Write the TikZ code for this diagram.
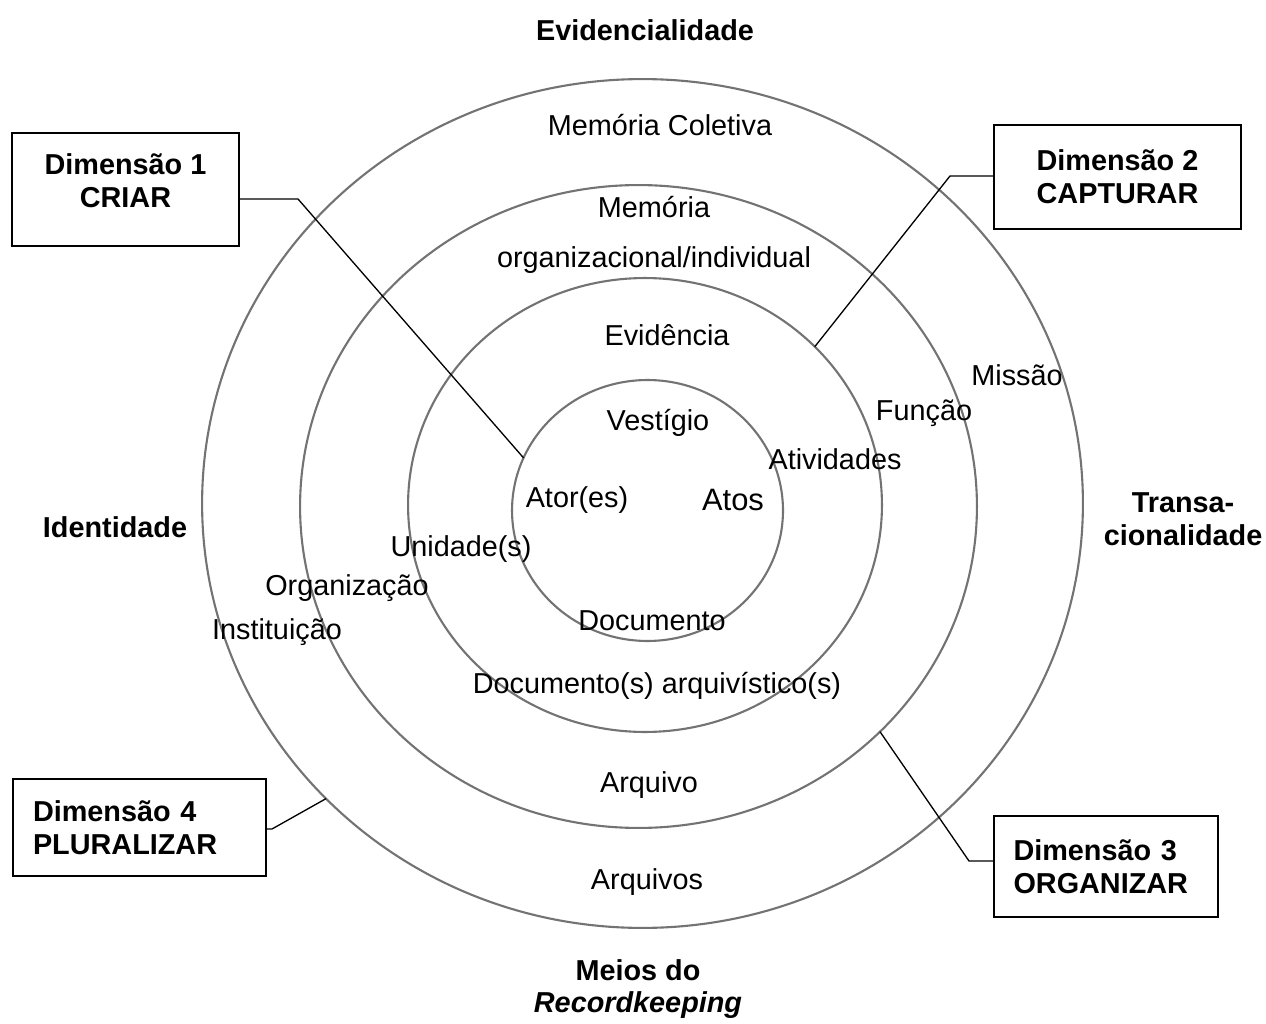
\documentclass[tikz,border=0pt]{standalone}
\usepackage{fontspec}
\setmainfont{Liberation Sans}
\usetikzlibrary{shapes.geometric}
\newcommand{\lblsize}{\fontsize{16.4}{18.7}\selectfont}
\tikzset{
	ring/.style={ellipse, draw=black!55, line width=1.2pt, inner sep=0pt, outer sep=0pt},
	lbl/.style={font=\lblsize, inner sep=0pt},
	axislbl/.style={font=\lblsize\bfseries, align=center, inner sep=0pt},
	dimbox/.style={draw, line width=1.4pt, font=\lblsize\bfseries, inner sep=0pt},
	link/.style={line width=0.75pt},
}
\begin{document}
\begin{tikzpicture}[x=0.02cm, y=-0.02cm]
	\useasboundingbox (0,0) rectangle (1266,1023);
	% the four rings
	\node[ring, minimum width=17.62cm, minimum height=16.98cm] (ring4) at (642.5,503.5) {};
	\node[ring, minimum width=13.54cm, minimum height=12.86cm] (ring3) at (638.5,506.5) {};
	\node[ring, minimum width=9.48cm, minimum height=9.08cm] (ring2) at (645,505) {};
	\node[ring, minimum width=5.42cm, minimum height=5.22cm] (ring1) at (647.5,510.5) {};
	% axes
	\node[axislbl] (evid) at (645,30) {Evidencialidade};
	\node[axislbl] (ident) at (115,527) {Identidade};
	\node[axislbl] (trans) at (1183,519) {Transa-\\cionalidade};
	\node[axislbl] (meios) at (638,989) {Meios do\\\textit{Recordkeeping}};
	% ring labels
	\node[lbl] (memcol) at (660,125) {Memória Coletiva};
	\node[lbl, align=center] (memorg) at (654,235) {Memória\\[9.7pt]organizacional/individual};
	\node[lbl] (evidencia) at (667,335) {Evidência};
	\node[lbl] (vestigio) at (658,423) {Vestígio};
	\node[lbl] (missao) at (1017,375) {Missão};
	\node[lbl] (funcao) at (924,413) {Função};
	\node[lbl] (ativ) at (835,459) {Atividades};
	\node[lbl] (ator) at (577,500) {Ator(es)};
	\node[lbl, font=\fontsize{17.6}{20}\selectfont] (atos) at (733,500) {Atos};
	\node[lbl] (unid) at (461,549) {Unidade(s)};
	\node[lbl] (org) at (347,588) {Organização};
	\node[lbl] (inst) at (277,632) {Instituição};
	\node[lbl] (doc) at (652,621) {Documento};
	\node[lbl] (docarq) at (657,686) {Documento(s) arquivístico(s)};
	\node[lbl] (arq) at (649,785) {Arquivo};
	\node[lbl] (arqs) at (647,882) {Arquivos};
	% dimension boxes
	\node[dimbox, align=center, text depth=0.36cm, minimum width=4.54cm, minimum height=2.26cm] (dim1) at (125.5,189.5) {Dimensão 1\\CRIAR};
	\node[dimbox, align=center, minimum width=4.94cm, minimum height=2.08cm] (dim2) at (1117.5,177) {Dimensão 2\\CAPTURAR};
	\node[dimbox, align=left, text width=3.7cm, inner xsep=0.39cm, minimum height=2.02cm] (dim3) at (1106,866.5) {Dimensão 3\\ORGANIZAR};
	\node[dimbox, align=left, text width=4.26cm, inner xsep=0.4cm, minimum height=1.94cm] (dim4) at (139.5,827.5) {Dimensão 4\\PLURALIZAR};
	\coordinate (k1) at (298,199);
	\coordinate (k2) at (950,176);
	\coordinate (k3) at (969,861);
	\coordinate (k4) at (272,829);
	\draw[link] (dim1.east |- k1) -- (k1) -- (ring1.157.6);
	\draw[link] (dim2.west |- k2) -- (k2) -- (ring2.43.6);
	\draw[link] (dim3.west |- k3) -- (k3) -- (ring3.-43.4);
	\draw[link] (dim4.east |- k4) -- (k4) -- (ring4.223.8);
\end{tikzpicture}
\end{document}
